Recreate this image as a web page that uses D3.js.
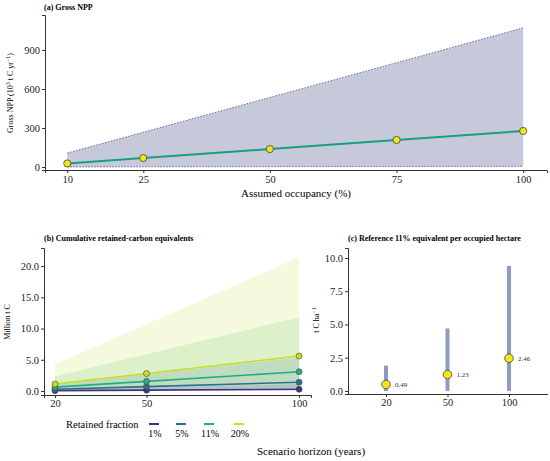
<!DOCTYPE html>
<html><head><meta charset="utf-8">
<script src="https://cdn.jsdelivr.net/npm/d3@7"></script>
<style>body{margin:0;background:#fff}svg, svg text{font-family:"Liberation Serif","Times New Roman","DejaVu Serif",serif !important}</style>
</head><body><svg id="c" width="550" height="461" font-family="Liberation Serif, serif"></svg>
<script>
// ---- Data ----
const occupancy = [10, 25, 50, 75, 100];
const nppMean = [27.7, 69, 138, 208, 277];
const nppLow = [0.5, 1.3, 2.5, 3.8, 5];
const nppHigh = [107, 267, 535, 802, 1070];
const occTicks = [10, 25, 50, 75, 100];
const nppTicks = [0, 300, 600, 900];

const horizons = [20, 50, 100];
const fractions = ["1%", "5%", "11%", "20%"];
const fracColors = ["#46327e", "#2f6f8e", "#25ad82", "#c7dd1e"];
const bandColors = ["#3b528b", "#2c728e", "#5ec962", "#d8e67a"];
const bandOpacity = [0.18, 0.16, 0.16, 0.25];
const cumMean = [[0.06, 0.14, 0.28], [0.28, 0.7, 1.4], [0.62, 1.54, 3.08], [1.12, 2.8, 5.6]];
const cumLow = [[0.01, 0.02, 0.04], [0.05, 0.12, 0.24], [0.1, 0.26, 0.52], [0.19, 0.48, 0.96]];
const cumHigh = [[0.21, 0.54, 1.07], [1.07, 2.68, 5.36], [2.36, 5.9, 11.8], [4.28, 10.7, 21.4]];
const cumTicks = [0, 5, 10, 15, 20];

const refHorizons = ["20", "50", "100"];
const refValue = [0.49, 1.23, 2.46];
const refHigh = [1.9, 4.7, 9.4];
const refLow = [0, 0, 0];
const refTicks = [0, 2.5, 5, 7.5, 10];

const svg = d3.select("#c");
const axisCol = "#333";
const FONT = '"Liberation Serif","Times New Roman","DejaVu Serif",serif';
const TICK = 10.5;

function styleAxis(g, size) {
  g.attr("font-family", null);
  g.selectAll("path").attr("stroke", axisCol).attr("stroke-width", 1);
  g.selectAll("line").attr("stroke", axisCol);
  g.selectAll("text").attr("fill", "#222").style("font-size", size + "px").style("font-family", FONT);
}

// ---- Panel (a) ----
{
  const x = d3.scaleLinear().domain([5.6, 104.7]).range([45, 547]);
  const y = d3.scaleLinear().domain([-23, 1169]).range([170, 15]);
  const pts = occupancy.map((o, i) => ({o, m: nppMean[i], lo: nppLow[i], hi: nppHigh[i]}));
  svg.append("path").datum(pts)
    .attr("d", d3.area().x(d => x(d.o)).y0(d => y(d.lo)).y1(d => y(d.hi)))
    .attr("fill", "#c5c9da");
  ["hi", "lo"].forEach(k => {
    svg.append("path").datum(pts)
      .attr("d", d3.line().x(d => x(d.o)).y(d => y(d[k])))
      .attr("fill", "none").attr("stroke", "#6e6aa3").attr("stroke-width", 1).attr("stroke-dasharray", "1.5,1.5");
  });
  svg.append("path").datum(pts)
    .attr("d", d3.line().x(d => x(d.o)).y(d => y(d.m)))
    .attr("fill", "none").attr("stroke", "#17a07f").attr("stroke-width", 2);
  svg.selectAll(".pa").data(pts).enter().append("circle")
    .attr("cx", d => x(d.o)).attr("cy", d => y(d.m)).attr("r", 3.6)
    .attr("fill", "#f0e619").attr("stroke", "#444").attr("stroke-width", 0.8);
  const gx = svg.append("g").attr("transform", "translate(0,170)")
    .call(d3.axisBottom(x).tickValues(occTicks).tickSize(3).tickPadding(3));
  styleAxis(gx, TICK);
  const gy = svg.append("g").attr("transform", "translate(45,0)")
    .call(d3.axisLeft(y).tickValues(nppTicks).tickSize(3).tickPadding(2));
  styleAxis(gy, TICK);
  svg.append("text").attr("x", 44).attr("y", 10).style("font-size", "8px").style("font-weight", "bold").text("(a) Gross NPP");
  svg.append("text").attr("x", 296).attr("y", 197).attr("text-anchor", "middle").style("font-size", "11px").text("Assumed occupancy (%)");
  const yl = svg.append("text").attr("transform", "translate(13,93) rotate(-90)").attr("text-anchor", "middle").style("font-size", "8px");
  yl.append("tspan").text("Gross NPP (10");
  yl.append("tspan").attr("dy", -3).style("font-size", "6px").text("3");
  yl.append("tspan").attr("dy", 3).text(" t C yr");
  yl.append("tspan").attr("dy", -3).style("font-size", "6px").text("−1");
  yl.append("tspan").attr("dy", 3).text(")");
}

// ---- Panel (b) ----
{
  const x = d3.scaleLinear().domain([16.4, 103.9]).range([44, 311]);
  const y = d3.scaleLinear().domain([-0.64, 22.9]).range([395, 248]);
  for (let s = fractions.length - 1; s >= 0; s--) {
    const pts = horizons.map((h, i) => ({h, lo: cumLow[s][i], hi: cumHigh[s][i]}));
    svg.append("path").datum(pts)
      .attr("d", d3.area().x(d => x(d.h)).y0(d => y(d.lo)).y1(d => y(d.hi)))
      .attr("fill", bandColors[s]).attr("fill-opacity", bandOpacity[s]);
  }
  fractions.forEach((f, s) => {
    const pts = horizons.map((h, i) => ({h, m: cumMean[s][i]}));
    svg.append("path").datum(pts)
      .attr("d", d3.line().x(d => x(d.h)).y(d => y(d.m)))
      .attr("fill", "none").attr("stroke", fracColors[s]).attr("stroke-width", 1.6);
    svg.selectAll(".pb" + s).data(pts).enter().append("circle")
      .attr("cx", d => x(d.h)).attr("cy", d => y(d.m)).attr("r", 3)
      .attr("fill", fracColors[s]).attr("stroke", "#444").attr("stroke-width", 0.6);
  });
  const gx = svg.append("g").attr("transform", "translate(0,395)")
    .call(d3.axisBottom(x).tickValues(horizons).tickSize(3).tickPadding(2));
  styleAxis(gx, TICK);
  const gy = svg.append("g").attr("transform", "translate(44,0)")
    .call(d3.axisLeft(y).tickValues(cumTicks).tickFormat(d3.format(".1f")).tickSize(3).tickPadding(2));
  styleAxis(gy, TICK);
  svg.append("text").attr("x", 44).attr("y", 241).style("font-size", "8px").style("font-weight", "bold").text("(b) Cumulative retained-carbon equivalents");
  svg.append("text").attr("transform", "translate(10,322) rotate(-90)").attr("text-anchor", "middle").style("font-size", "8px").text("Million t C");
  // legend
  svg.append("text").attr("x", 66).attr("y", 428).style("font-size", "10.5px").text("Retained fraction");
  const lx = [154, 181, 209, 239];
  fractions.forEach((f, s) => {
    svg.append("line").attr("x1", lx[s] - 5).attr("x2", lx[s] + 5).attr("y1", 424).attr("y2", 424)
      .attr("stroke", fracColors[s]).attr("stroke-width", 2);
    svg.append("text").attr("x", lx[s] + 1).attr("y", 437).attr("text-anchor", "middle").style("font-size", "10px").text(f);
  });
  svg.append("text").attr("x", 311).attr("y", 455).attr("text-anchor", "middle").style("font-size", "11px").text("Scenario horizon (years)");
}

// ---- Panel (c) ----
{
  const x = d3.scalePoint().domain(refHorizons).range([386, 509]);
  const y = d3.scaleLinear().domain([-0.23, 10.75]).range([394, 248]);
  const pts = refHorizons.map((h, i) => ({h, v: refValue[i], lo: refLow[i], hi: refHigh[i]}));
  svg.selectAll(".bc").data(pts).enter().append("rect")
    .attr("x", d => x(d.h) - 2).attr("width", 4)
    .attr("y", d => y(d.hi)).attr("height", d => y(d.lo) - y(d.hi))
    .attr("fill", "#8e9cc3");
  svg.selectAll(".pc").data(pts).enter().append("circle")
    .attr("cx", d => x(d.h)).attr("cy", d => y(d.v)).attr("r", 4.3)
    .attr("fill", "#f0e619").attr("stroke", "#444").attr("stroke-width", 0.8);
  svg.selectAll(".lc").data(pts).enter().append("text")
    .attr("x", d => x(d.h) + 9).attr("y", d => y(d.v) + 2.5)
    .style("font-size", "7px").attr("fill", "#333").text(d => d3.format(".2f")(d.v));
  const gx = svg.append("g").attr("transform", "translate(0,394)")
    .call(d3.axisBottom(x).tickSize(3).tickPadding(2));
  gx.select("path").attr("d", "M348,0.5H548");
  styleAxis(gx, TICK);
  const gy = svg.append("g").attr("transform", "translate(348,0)")
    .call(d3.axisLeft(y).tickValues(refTicks).tickFormat(d3.format(".1f")).tickSize(3).tickPadding(2));
  styleAxis(gy, TICK);
  svg.append("text").attr("x", 348).attr("y", 241).style("font-size", "8px").style("font-weight", "bold").text("(c) Reference 11% equivalent per occupied hectare");
  const yl = svg.append("text").attr("transform", "translate(319,320) rotate(-90)").attr("text-anchor", "middle").style("font-size", "8px");
  yl.append("tspan").text("t C ha");
  yl.append("tspan").attr("dy", -3).style("font-size", "6px").text("−1");
}
</script></body></html>
